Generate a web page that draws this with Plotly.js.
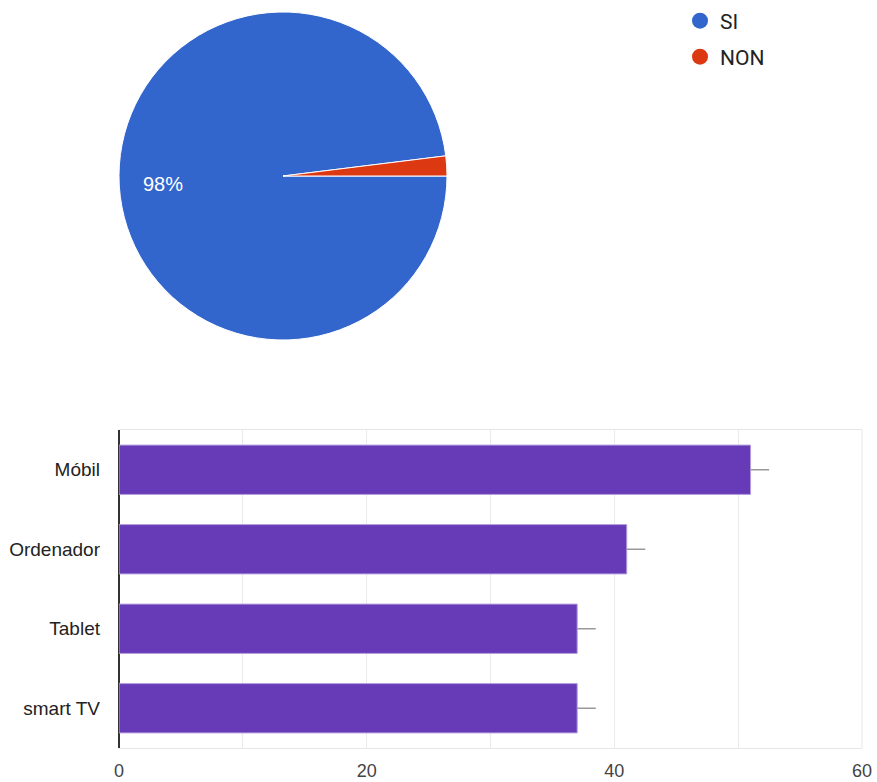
<!DOCTYPE html>
<html>
<head>
<meta charset="utf-8">
<script src="https://cdn.plot.ly/plotly-3.0.1.min.js"></script>
<style>html,body{margin:0;padding:0;background:#fff;}#chart{width:877px;height:782px;}</style>
</head>
<body>
<div id="chart"></div>
<script>
// Pie data
const pieLabels = ['SI', 'NON'];
const pieValues = [50, 1];
const pieColors = ['#3366cc', '#dc3912'];

// Bar data
const devices = ['Móbil', 'Ordenador', 'Tablet', 'smart TV'];
const deviceCounts = [51, 41, 37, 37];
const deviceErrors = [1.5, 1.5, 1.5, 1.5];

// Axis ticks
const xTickVals = [0, 10, 20, 30, 40, 50, 60];
const xTickText = ['0', '', '20', '', '40', '', '60'];

const W = 877, H = 782;
const px = v => v / W;
const py = v => 1 - v / H;

const pieTotal = pieValues.reduce((a, b) => a + b, 0);
const siPct = Math.round(pieValues[0] / pieTotal * 100) + '%';

const pie = {
  type: 'pie',
  labels: pieLabels,
  values: pieValues,
  sort: false,
  direction: 'clockwise',
  rotation: 90,
  marker: {colors: pieColors, line: {color: '#ffffff', width: 1}},
  textinfo: 'none',
  domain: {x: [px(119), px(447)], y: [py(340), py(12)]},
  showlegend: false,
  hoverinfo: 'label+percent'
};

const legendTraces = pieLabels.map((lab, i) => ({
  type: 'scatter',
  mode: 'markers',
  x: [null], y: [null],
  name: lab,
  marker: {color: pieColors[i], size: 16, symbol: 'circle'},
  xaxis: 'x2', yaxis: 'y2',
  showlegend: true,
  legend: i === 0 ? 'legend' : 'legend2'
}));

const bar = {
  type: 'bar',
  orientation: 'h',
  y: devices,
  x: deviceCounts,
  marker: {color: '#673ab7', line: {color: '#b39ddb', width: 1}},
  error_x: {type: 'data', array: deviceErrors, arrayminus: deviceErrors.map(() => 0), symmetric: false,
            color: '#999999', thickness: 1.5, width: 0},
  showlegend: false,
  xaxis: 'x', yaxis: 'y'
};

const legendFont = {family: 'Roboto, Arial, sans-serif', size: 21, color: '#222'};

const layout = {
  width: W, height: H,
  margin: {l: 0, r: 0, t: 0, b: 0},
  paper_bgcolor: '#ffffff',
  plot_bgcolor: '#ffffff',
  bargap: 0.38,
  font: {family: 'Liberation Sans, Arial, sans-serif'},
  xaxis: {
    domain: [px(119), px(862)],
    range: [0, 60],
    tickvals: xTickVals,
    ticktext: xTickText,
    showgrid: true,
    gridcolor: '#ebebeb',
    gridwidth: 1,
    zeroline: true,
    zerolinecolor: '#333333',
    zerolinewidth: 1.5,
    showline: true,
    linecolor: '#e6e6e6',
    mirror: true,
    ticks: '',
    tickfont: {size: 18, color: '#444', family: 'Liberation Sans, Arial, sans-serif'},
    ticklabelstandoff: 6,
    fixedrange: true
  },
  yaxis: {
    domain: [py(748), py(430)],
    autorange: 'reversed',
    showgrid: false,
    showline: false,
    ticks: '',
    tickfont: {size: 19, color: '#222', family: 'Liberation Sans, Arial, sans-serif'},
    ticklabelstandoff: 18,
    fixedrange: true
  },
  xaxis2: {domain: [0.98, 0.99], visible: false, anchor: 'y2'},
  yaxis2: {domain: [0.98, 0.99], visible: false, anchor: 'x2'},
  legend: {x: px(680), y: py(21), xanchor: 'left', yanchor: 'middle', font: legendFont, bgcolor: 'rgba(0,0,0,0)'},
  legend2: {x: px(680), y: py(57), xanchor: 'left', yanchor: 'middle', font: legendFont, bgcolor: 'rgba(0,0,0,0)'},
  annotations: [{
    xref: 'paper', yref: 'paper', x: px(163), y: py(184),
    xanchor: 'center', yanchor: 'middle', showarrow: false,
    text: siPct,
    font: {color: '#ffffff', size: 20, family: 'Liberation Sans, Arial, sans-serif'}
  }],
  shapes: [{
    type: 'line', xref: 'paper', yref: 'paper',
    x0: px(862), x1: px(862), y0: py(748), y1: py(430),
    line: {color: '#e6e6e6', width: 1}
  }]
};

Plotly.newPlot('chart', [pie, ...legendTraces, bar], layout, {displayModeBar: false, staticPlot: true});
</script>
</body>
</html>
